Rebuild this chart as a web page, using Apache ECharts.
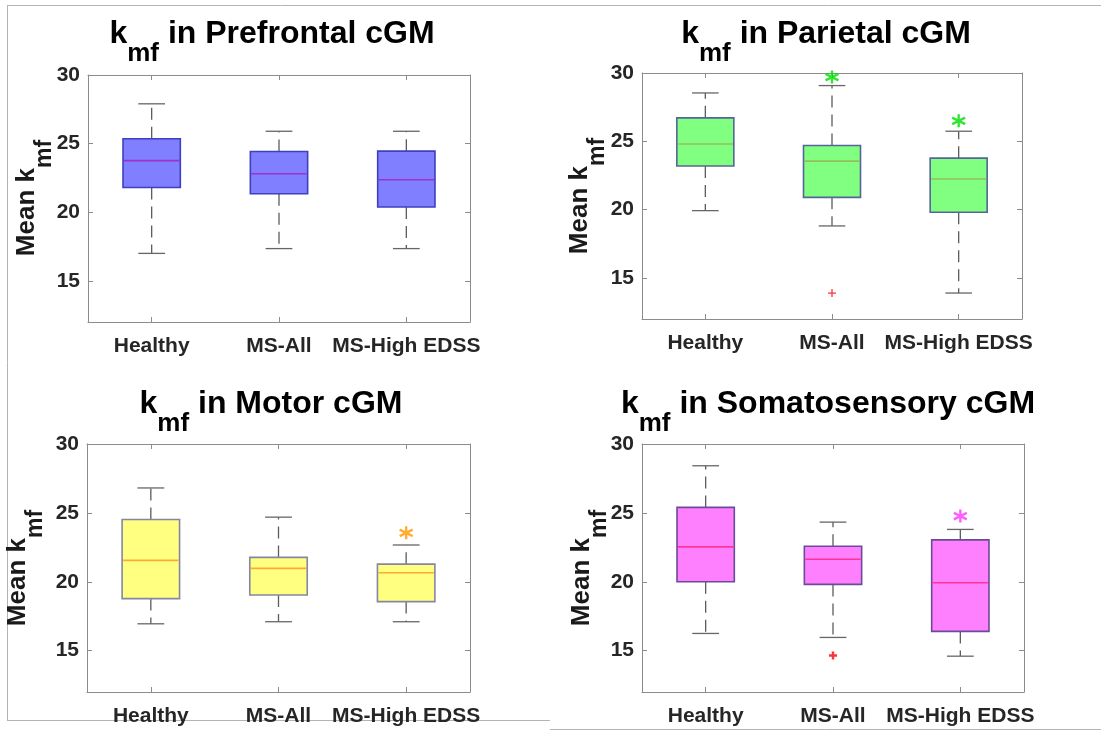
<!DOCTYPE html>
<html>
<head>
<meta charset="utf-8">
<script src="https://cdn.jsdelivr.net/npm/echarts@6/dist/echarts.min.js"></script>
<style>
  html, body { margin: 0; padding: 0; background: #fff; }
  #chart { width: 1101px; height: 731px; }
</style>
</head>
<body>
<div id="chart"></div>
<script>
// ---------- data ----------
const categories = ['Healthy', 'MS-All', 'MS-High EDSS'];
const yTicks = [15, 20, 25, 30];
const yRange = [12, 30];

// each row: [lower whisker, Q1, median, Q3, upper whisker]
const prefrontal = [
  [17.0, 21.8, 23.76, 25.35, 27.9],
  [17.35, 21.35, 22.8, 24.42, 25.9],
  [17.35, 20.38, 22.37, 24.45, 25.9]
];
const parietal = [
  [19.93, 23.19, 24.8, 26.72, 28.54],
  [18.81, 20.9, 23.55, 24.7, 29.08],
  [13.9, 19.81, 22.24, 23.77, 25.74]
];
const motor = [
  [16.95, 18.78, 21.55, 24.52, 26.81],
  [17.1, 19.04, 20.97, 21.77, 24.69],
  [17.1, 18.56, 20.65, 21.28, 22.67]
];
const somato = [
  [16.25, 20.0, 22.53, 25.4, 28.42],
  [15.96, 19.81, 21.63, 22.58, 24.33],
  [14.6, 16.4, 19.93, 23.04, 23.8]
];
// outliers: [category index, value]
const prefrontalOutliers = [];
const parietalOutliers = [[1, 13.9]];
const motorOutliers = [];
const somatoOutliers = [[1, 14.65]];
// significance asterisks: [category index, value]
const prefrontalStars = [];
const parietalStars = [[1, 29.7], [2, 26.5]];
const motorStars = [[2, 23.55]];
const somatoStars = [[2, 24.77]];

const titles = ['Prefrontal', 'Parietal', 'Motor', 'Somatosensory'];

// ---------- layout / style ----------
const FONT = '"Liberation Sans", Arial, Helvetica, sans-serif';
const panels = [
  { box: prefrontal, out: prefrontalOutliers, stars: prefrontalStars,
    grid: { left: 88, top: 75, width: 382, height: 247 },
    titleX: 272, titleY: 18, ylabX: 14, ylabY: 198,
    fill: '#7f7fff', border: '#3f3fbf', median: '#a030c8', star: '#00dd00', plusW: 1.5 },
  { box: parietal, out: parietalOutliers, stars: parietalStars,
    grid: { left: 642, top: 73, width: 380, height: 246 },
    titleX: 826, titleY: 18, ylabX: 567, ylabY: 196,
    fill: '#80ff80', border: '#55659a', median: '#93bf60', star: '#00dd00', plusW: 1.3 },
  { box: motor, out: motorOutliers, stars: motorStars,
    grid: { left: 87, top: 444, width: 383, height: 248 },
    titleX: 271, titleY: 388, ylabX: 5, ylabY: 568,
    fill: '#ffff80', border: '#8585a5', median: '#ffaa33', star: '#ff9900', plusW: 1.5 },
  { box: somato, out: somatoOutliers, stars: somatoStars,
    grid: { left: 642, top: 444, width: 382, height: 248 },
    titleX: 828, titleY: 388, ylabX: 569, ylabY: 568,
    fill: '#ff80ff', border: '#6a4a9a', median: '#ff3399', star: '#ff33ff', plusW: 2.4 }
];

const AX = '#8c8c8c';
const LBL = '#262626';

const grids = [], xAxes = [], yAxes = [], series = [], graphics = [];

function makeRender(p) {
  return function (params, api) {
    const c = api.value(0);
    const lo = api.coord([c, api.value(1)]);
    const q1 = api.coord([c, api.value(2)]);
    const md = api.coord([c, api.value(3)]);
    const q3 = api.coord([c, api.value(4)]);
    const hi = api.coord([c, api.value(5)]);
    const band = api.size([1, 0])[0];
    const bw = band * 0.45, cw = band * 0.21;
    const x = lo[0];
    const wStyle = { stroke: '#5c5c5c', lineWidth: 1.3, lineDash: [12, 7] };
    const cStyle = { stroke: '#666666', lineWidth: 1.3 };
    return {
      type: 'group',
      children: [
        { type: 'line', shape: { x1: x, y1: q3[1], x2: x, y2: hi[1] }, style: wStyle },
        { type: 'line', shape: { x1: x, y1: q1[1], x2: x, y2: lo[1] }, style: wStyle },
        { type: 'line', shape: { x1: x - cw / 2, y1: hi[1], x2: x + cw / 2, y2: hi[1] }, style: cStyle },
        { type: 'line', shape: { x1: x - cw / 2, y1: lo[1], x2: x + cw / 2, y2: lo[1] }, style: cStyle },
        { type: 'rect', shape: { x: x - bw / 2, y: q3[1], width: bw, height: q1[1] - q3[1] },
          style: { fill: p.fill, stroke: p.border, lineWidth: 1.6 } },
        { type: 'line', shape: { x1: x - bw / 2 + 1, y1: md[1], x2: x + bw / 2 - 1, y2: md[1] },
          style: { stroke: p.median, lineWidth: 1.6 } }
      ]
    };
  };
}

const PLUS = 'path://M0,5L10,5M5,0L5,10';
const STAR = 'path://M5,0L5,10M0.67,2.5L9.33,7.5M0.67,7.5L9.33,2.5';

panels.forEach(function (p, i) {
  grids.push(Object.assign({ show: false }, p.grid));
  const xBase = {
    type: 'category', gridIndex: i, data: categories, boundaryGap: true,
    axisLine: { show: true, lineStyle: { color: AX, width: 1 } },
    axisTick: { show: true, inside: true, alignWithLabel: true, length: 5, lineStyle: { color: AX } },
    splitLine: { show: false }
  };
  xAxes.push(Object.assign({}, xBase, {
    position: 'bottom',
    axisLabel: { interval: 0, fontSize: 21, fontWeight: 'bold', fontFamily: FONT, color: LBL, margin: 14 }
  }));
  xAxes.push(Object.assign({}, xBase, { position: 'top', axisLabel: { show: false } }));
  const yBase = {
    type: 'value', gridIndex: i, min: yRange[0], max: yRange[1],
    axisLine: { show: true, lineStyle: { color: AX, width: 1 } },
    axisTick: { show: true, inside: true, length: 5, customValues: yTicks, lineStyle: { color: AX } },
    splitLine: { show: false }
  };
  yAxes.push(Object.assign({}, yBase, {
    position: 'left',
    axisLabel: { customValues: yTicks, fontSize: 21, fontWeight: 'bold', fontFamily: FONT, color: LBL, margin: 8 }
  }));
  yAxes.push(Object.assign({}, yBase, { position: 'right', axisLabel: { show: false } }));

  series.push({
    type: 'custom', xAxisIndex: 2 * i, yAxisIndex: 2 * i,
    renderItem: makeRender(p),
    encode: { x: 0, y: [1, 2, 3, 4, 5] },
    data: p.box.map(function (r, k) { return [k].concat(r); }),
    silent: true, z: 3
  });
  if (p.out.length) {
    series.push({
      type: 'scatter', xAxisIndex: 2 * i, yAxisIndex: 2 * i,
      data: p.out, symbol: PLUS, symbolSize: 8,
      itemStyle: { color: '#ff0000', borderColor: '#ff0000', borderWidth: p.plusW },
      silent: true, z: 4
    });
  }
  if (p.stars.length) {
    series.push({
      type: 'scatter', xAxisIndex: 2 * i, yAxisIndex: 2 * i,
      data: p.stars, symbol: STAR, symbolSize: 13,
      itemStyle: { color: p.star, borderColor: p.star, borderWidth: 2.4 },
      silent: true, z: 4
    });
  }

  // title with subscript (subscript lowered via top padding)
  graphics.push({
    type: 'text', x: p.titleX, y: p.titleY, z: 10,
    style: {
      text: '{a|k}{b|mf}{a| in ' + titles[i] + ' cGM}',
      align: 'center', verticalAlign: 'top', textAlign: 'center', textVerticalAlign: 'top',
      fill: '#000',
      rich: {
        a: { font: 'bold 32px ' + FONT, fill: '#000', verticalAlign: 'top' },
        b: { font: 'bold 26px ' + FONT, fill: '#000', verticalAlign: 'top', padding: [23, 0, 0, 0] }
      }
    }
  });
  // rotated y label with subscript
  graphics.push({
    type: 'text', x: p.ylabX, y: p.ylabY, rotation: Math.PI / 2, z: 10,
    style: {
      text: '{a|Mean k}{b|mf}',
      align: 'center', verticalAlign: 'top', textAlign: 'center', textVerticalAlign: 'top',
      fill: '#1a1a1a',
      rich: {
        a: { font: 'bold 26px ' + FONT, fill: '#1a1a1a', verticalAlign: 'top' },
        b: { font: 'bold 23px ' + FONT, fill: '#1a1a1a', verticalAlign: 'top', padding: [19, 0, 0, 0] }
      }
    }
  });
});

// outer frame lines
const FR = { stroke: '#b4b4b4', lineWidth: 1 };
graphics.push({ type: 'line', shape: { x1: 7, y1: 5.5, x2: 1101, y2: 5.5 }, style: FR, z: -1 });
graphics.push({ type: 'line', shape: { x1: 7.5, y1: 5, x2: 7.5, y2: 720 }, style: FR, z: -1 });
graphics.push({ type: 'line', shape: { x1: 7, y1: 720.5, x2: 550, y2: 720.5 }, style: FR, z: -1 });
graphics.push({ type: 'line', shape: { x1: 550, y1: 729.5, x2: 1101, y2: 729.5 }, style: FR, z: -1 });

const chart = echarts.init(document.getElementById('chart'), null, { renderer: 'canvas' });
chart.setOption({
  backgroundColor: '#ffffff',
  animation: false,
  grid: grids,
  xAxis: xAxes,
  yAxis: yAxes,
  series: series,
  graphic: graphics
});
</script>
</body>
</html>
